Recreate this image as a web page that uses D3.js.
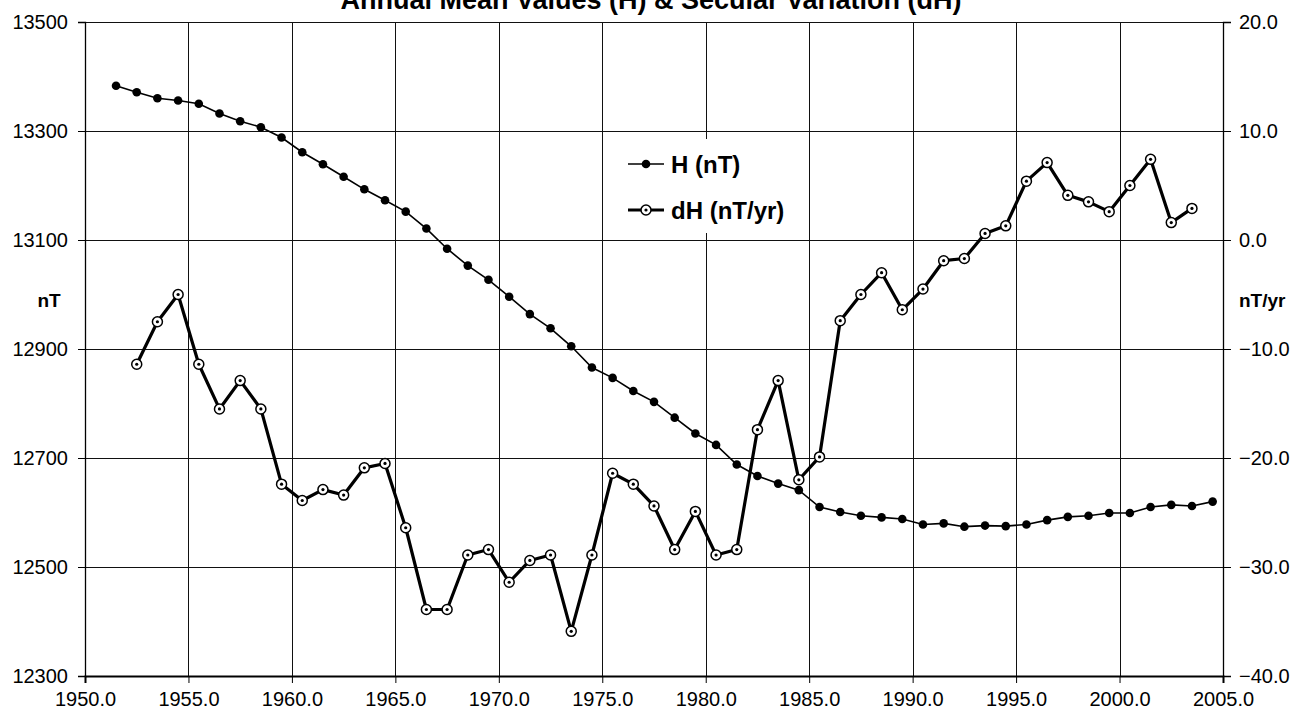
<!DOCTYPE html>
<html>
<head>
<meta charset="utf-8">
<script src="https://cdn.jsdelivr.net/npm/d3@7"></script>
<style>
  body { margin: 0; background: #fff; }
  text { font-family: Arial, "Liberation Sans", sans-serif; }
</style>
</head>
<body>
<div id="chart"></div>
<script>
// Annual mean H and its secular variation dH
const hYears = [1951.5, 1952.5, 1953.5, 1954.5, 1955.5, 1956.5, 1957.5, 1958.5, 1959.5, 1960.5,
  1961.5, 1962.5, 1963.5, 1964.5, 1965.5, 1966.5, 1967.5, 1968.5, 1969.5, 1970.5,
  1971.5, 1972.5, 1973.5, 1974.5, 1975.5, 1976.5, 1977.5, 1978.5, 1979.5, 1980.5,
  1981.5, 1982.5, 1983.5, 1984.5, 1985.5, 1986.5, 1987.5, 1988.5, 1989.5, 1990.5,
  1991.5, 1992.5, 1993.5, 1994.5, 1995.5, 1996.5, 1997.5, 1998.5, 1999.5, 2000.5,
  2001.5, 2002.5, 2003.5, 2004.5];
const hValues = [13383, 13371, 13360, 13356, 13350, 13332, 13318, 13307, 13288, 13261,
  13239, 13216, 13193, 13173, 13152, 13121, 13084, 13053, 13027, 12996,
  12964, 12938, 12905, 12866, 12847, 12823, 12803, 12774, 12745, 12724,
  12688, 12667, 12653, 12641, 12610, 12601, 12594, 12591, 12588, 12578,
  12580, 12574, 12576, 12575, 12578, 12586, 12592, 12594, 12599, 12599,
  12610, 12614, 12612, 12620];

const dhYears = [1952.5, 1953.5, 1954.5, 1955.5, 1956.5, 1957.5, 1958.5, 1959.5, 1960.5, 1961.5,
  1962.5, 1963.5, 1964.5, 1965.5, 1966.5, 1967.5, 1968.5, 1969.5, 1970.5, 1971.5,
  1972.5, 1973.5, 1974.5, 1975.5, 1976.5, 1977.5, 1978.5, 1979.5, 1980.5, 1981.5,
  1982.5, 1983.5, 1984.5, 1985.5, 1986.5, 1987.5, 1988.5, 1989.5, 1990.5, 1991.5,
  1992.5, 1993.5, 1994.5, 1995.5, 1996.5, 1997.5, 1998.5, 1999.5, 2000.5, 2001.5,
  2002.5, 2003.5];
const dhValues = [-11.4, -7.5, -5.0, -11.4, -15.5, -12.9, -15.5, -22.4, -23.9, -22.9,
  -23.4, -20.9, -20.5, -26.4, -33.9, -33.9, -28.9, -28.4, -31.4, -29.4,
  -28.9, -35.9, -28.9, -21.4, -22.4, -24.4, -28.4, -24.9, -28.9, -28.4,
  -17.4, -12.9, -22.0, -19.9, -7.4, -5.0, -3.0, -6.4, -4.5, -1.9,
  -1.7, 0.6, 1.3, 5.4, 7.1, 4.1, 3.5, 2.6, 5.0, 7.4,
  1.6, 2.9];

const xTicks = [1950, 1955, 1960, 1965, 1970, 1975, 1980, 1985, 1990, 1995, 2000, 2005];
const leftTicks = [12300, 12500, 12700, 12900, 13100, 13300, 13500];
const rightTicks = [-40, -30, -20, -10, 0, 10, 20];

const margin = { top: 22, right: 68, bottom: 41, left: 85 };
const width = 1291 - margin.left - margin.right;
const height = 717 - margin.top - margin.bottom;

const svg = d3.select('#chart')
  .append('svg')
  .attr('width', 1291)
  .attr('height', 717)
  .append('g')
  .attr('transform', `translate(${margin.left}, ${margin.top})`);

const xScale = d3.scaleLinear().domain([1950, 2005]).range([0, width]);
const yLeft = d3.scaleLinear().domain([12300, 13500]).range([height, 0]);
const yRight = d3.scaleLinear().domain([-40, 20]).range([height, 0]);

// Title (partly cut off at the top, as in the original)
svg.append('text')
  .attr('x', width / 2 - 3)
  .attr('y', 9 - margin.top)
  .attr('text-anchor', 'middle')
  .attr('font-weight', 'bold')
  .attr('font-size', '27px')
  .text('Annual Mean Values (H) & Secular Variation (dH)');

// Gridlines
svg.append('g')
  .selectAll('line')
  .data(xTicks.slice(1, -1))
  .enter().append('line')
  .attr('x1', d => Math.round(xScale(d)) + 0.5)
  .attr('x2', d => Math.round(xScale(d)) + 0.5)
  .attr('y1', 0)
  .attr('y2', height)
  .attr('stroke', '#111')
  .attr('stroke-width', 1);

svg.append('g')
  .selectAll('line')
  .data(leftTicks.slice(1))
  .enter().append('line')
  .attr('x1', 0)
  .attr('x2', width)
  .attr('y1', d => Math.round(yLeft(d)) + 0.5)
  .attr('y2', d => Math.round(yLeft(d)) + 0.5)
  .attr('stroke', '#111')
  .attr('stroke-width', 1);

// Axes
const xAxis = svg.append('g')
  .attr('transform', `translate(0, ${height})`)
  .call(d3.axisBottom(xScale).tickValues(xTicks).tickFormat(d3.format('.1f')).tickSize(7).tickPadding(9));

const leftAxis = svg.append('g')
  .call(d3.axisLeft(yLeft).tickValues(leftTicks).tickFormat(d3.format('d')).tickSize(7).tickPadding(10));

const rightAxis = svg.append('g')
  .attr('transform', `translate(${width}, 0)`)
  .call(d3.axisRight(yRight).tickValues(rightTicks).tickFormat(d3.format('.1f')).tickSize(8).tickPadding(8));

[xAxis, leftAxis, rightAxis].forEach(a => {
  a.selectAll('.domain').attr('stroke', '#000').attr('stroke-width', 1.3);
  a.selectAll('.tick line').attr('stroke', '#000');
  a.selectAll('.tick text')
    .attr('font-size', '20px')
    .attr('fill', '#000')
    .style('font-family', 'Arial, "Liberation Sans", sans-serif');
});
xAxis.select('.domain').attr('stroke-width', 2);

// Axis unit labels
svg.append('text')
  .attr('x', -36)
  .attr('y', yLeft(12990) + 7)
  .attr('text-anchor', 'middle')
  .attr('font-weight', 'bold')
  .attr('font-size', '19px')
  .text('nT');

svg.append('text')
  .attr('x', width + 16)
  .attr('y', yLeft(12990) + 7)
  .attr('text-anchor', 'start')
  .attr('font-weight', 'bold')
  .attr('font-size', '19px')
  .text('nT/yr');

// H series
const hData = hYears.map((y, i) => ({ year: y, value: hValues[i] }));
const dhData = dhYears.map((y, i) => ({ year: y, value: dhValues[i] }));

svg.append('path')
  .datum(hData)
  .attr('fill', 'none')
  .attr('stroke', '#000')
  .attr('stroke-width', 1.6)
  .attr('d', d3.line()
    .x(d => xScale(d.year))
    .y(d => yLeft(d.value)));

svg.append('g')
  .selectAll('circle')
  .data(hData)
  .enter().append('circle')
  .attr('cx', d => xScale(d.year))
  .attr('cy', d => yLeft(d.value))
  .attr('r', 4.3)
  .attr('fill', '#000');

// dH series
svg.append('path')
  .datum(dhData)
  .attr('fill', 'none')
  .attr('stroke', '#000')
  .attr('stroke-width', 3.2)
  .attr('stroke-linejoin', 'round')
  .attr('d', d3.line()
    .x(d => xScale(d.year))
    .y(d => yRight(d.value)));

const dhMarks = svg.append('g')
  .selectAll('g')
  .data(dhData)
  .enter().append('g')
  .attr('transform', d => `translate(${xScale(d.year)}, ${yRight(d.value)})`);

dhMarks.append('circle')
  .attr('r', 5)
  .attr('fill', '#fff')
  .attr('stroke', '#000')
  .attr('stroke-width', 1.5);

dhMarks.append('circle')
  .attr('r', 1.6)
  .attr('fill', '#000');

// Legend
const legend = svg.append('g')
  .attr('transform', `translate(${612 - margin.left}, ${139 - margin.top})`);

legend.append('rect')
  .attr('width', 190)
  .attr('height', 94)
  .attr('fill', '#fff');

legend.append('line')
  .attr('x1', 16).attr('x2', 52)
  .attr('y1', 25).attr('y2', 25)
  .attr('stroke', '#000')
  .attr('stroke-width', 1.6);

legend.append('circle')
  .attr('cx', 34).attr('cy', 25)
  .attr('r', 4.3)
  .attr('fill', '#000');

legend.append('text')
  .attr('x', 59)
  .attr('y', 34)
  .attr('font-weight', 'bold')
  .attr('font-size', '24px')
  .text('H (nT)');

legend.append('line')
  .attr('x1', 16).attr('x2', 52)
  .attr('y1', 71).attr('y2', 71)
  .attr('stroke', '#000')
  .attr('stroke-width', 3.2);

legend.append('circle')
  .attr('cx', 34).attr('cy', 71)
  .attr('r', 5)
  .attr('fill', '#fff')
  .attr('stroke', '#000')
  .attr('stroke-width', 1.5);

legend.append('circle')
  .attr('cx', 34).attr('cy', 71)
  .attr('r', 1.6)
  .attr('fill', '#000');

legend.append('text')
  .attr('x', 59)
  .attr('y', 80)
  .attr('font-weight', 'bold')
  .attr('font-size', '24px')
  .text('dH (nT/yr)');
</script>
</body>
</html>
